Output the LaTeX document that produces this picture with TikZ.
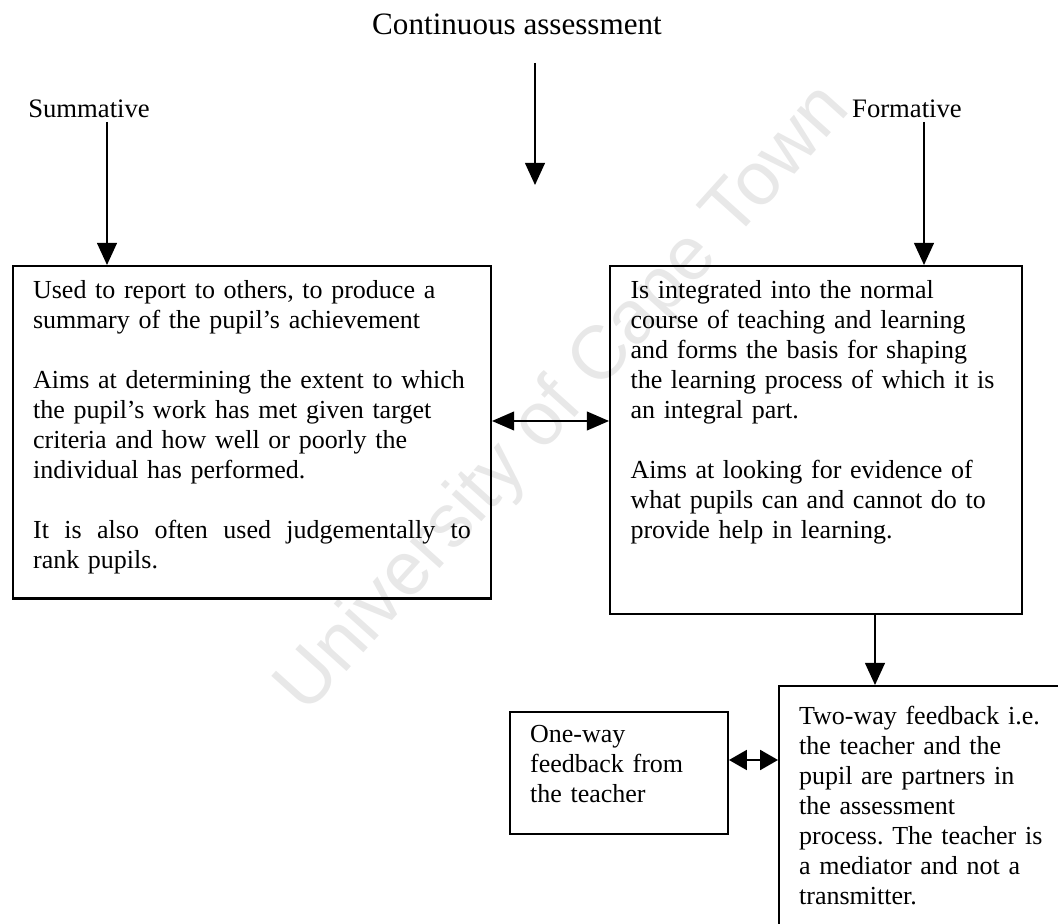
\documentclass[tikz,border=0pt]{standalone}
\usepackage{fontspec}
\setmainfont{Liberation Serif}
\newfontfamily\wmfont{Liberation Sans}
\usetikzlibrary{arrows.meta}

\begin{document}
\begin{tikzpicture}[x=0.45pt,y=-0.45pt]
    \tikzstyle{box}=[draw=black,line width=1pt,align=left,inner xsep=9pt,inner ysep=6.5pt,font=\fontsize{11.7}{13.5}\selectfont\frenchspacing]
    \tikzstyle{headtext}=[font=\fontsize{12}{13.5}\selectfont]
    \tikzstyle{wm}=[font=\wmfont\fontsize{34}{40}\selectfont,text=black!9]
    \tikzstyle{fwd}=[draw=black,line width=0.7pt,-{Triangle[length=10pt,width=9pt]}]
    \tikzstyle{both}=[draw=black,line width=0.7pt,{Triangle[length=10pt,width=8.5pt]}-{Triangle[length=10pt,width=8.5pt]}]
    \tikzstyle{bothsmall}=[draw=black,line width=0.7pt,{Triangle[length=8pt,width=9pt]}-{Triangle[length=8pt,width=9pt]}]

    \def\sumw{197pt}

    \useasboundingbox (0,0) rectangle (1058,924);
    \clip (0,0) rectangle (1058,924);

    % watermark
    \node[wm,rotate=48] (wmark) at (565,400) {University of Cape Town};

    % headings
    \node[font=\fontsize{14}{16}\selectfont] (title) at (517,24) {Continuous assessment};
    \node[headtext] (summ) at (89,109) {Summative};
    \node[headtext] (form) at (907,109) {Formative};

    % boxes
    \node[box,anchor=north west,text width=\sumw] (sumbox) at (12,265) {%
        Used to report to others, to produce a\\
        summary of the pupil's achievement\\[\baselineskip]
        Aims at determining the extent to which\\
        the pupil's work has met given target\\
        criteria and how well or poorly the\\
        individual has performed.\\[\baselineskip]
        \makebox[\sumw][s]{\spaceskip=3pt plus 20pt It is also often used judgementally to}\\
        rank pupils.\rule[-7pt]{0pt}{0pt}};
    \node[box,anchor=north west,text width=167pt,inner xsep=9.2pt] (formbox) at (609,265) {%
        Is integrated into the normal\\
        course of teaching and learning\\
        and forms the basis for shaping\\
        the learning process of which it is\\
        an integral part.\\[\baselineskip]
        Aims at looking for evidence of\\
        what pupils can and cannot do to\\
        provide help in learning.\rule[-27.5pt]{0pt}{0pt}};
    \node[box,anchor=north west,text width=114pt,inner ysep=9pt] (twobox) at (778,685) {%
        Two-way feedback i.e.\\
        the teacher and the\\
        pupil are partners in\\
        the assessment\\
        process. The teacher is\\
        a mediator and not a\\
        transmitter.\rule[-25pt]{0pt}{0pt}};
    \node[box,anchor=north east,text width=80pt,inner ysep=6pt] (onebox) at (729,711) {%
        One-way\\
        feedback from\\
        the teacher\rule[-8pt]{0pt}{0pt}};

    % connectors
    \coordinate (ctop) at (535,63);
    \coordinate (cbot) at (535,185);
    \coordinate (sarr) at (107,122);
    \coordinate (farr) at (924,122);
    \coordinate (mid) at (550,421);
    \coordinate (dn) at (875,0);
    \coordinate (fb) at (750,760);

   \draw [fwd] (ctop) -- (cbot);
   \draw [fwd] (sarr) -- (sarr |- sumbox.north);
   \draw [fwd] (farr) -- (farr |- formbox.north);
   \draw [both] (sumbox.east |- mid) -- (formbox.west |- mid);
   \draw [fwd] (formbox.south -| dn) -- (twobox.north -| dn);
   \draw [bothsmall] (onebox.east |- fb) -- (twobox.west |- fb);

\end{tikzpicture}
\end{document}
